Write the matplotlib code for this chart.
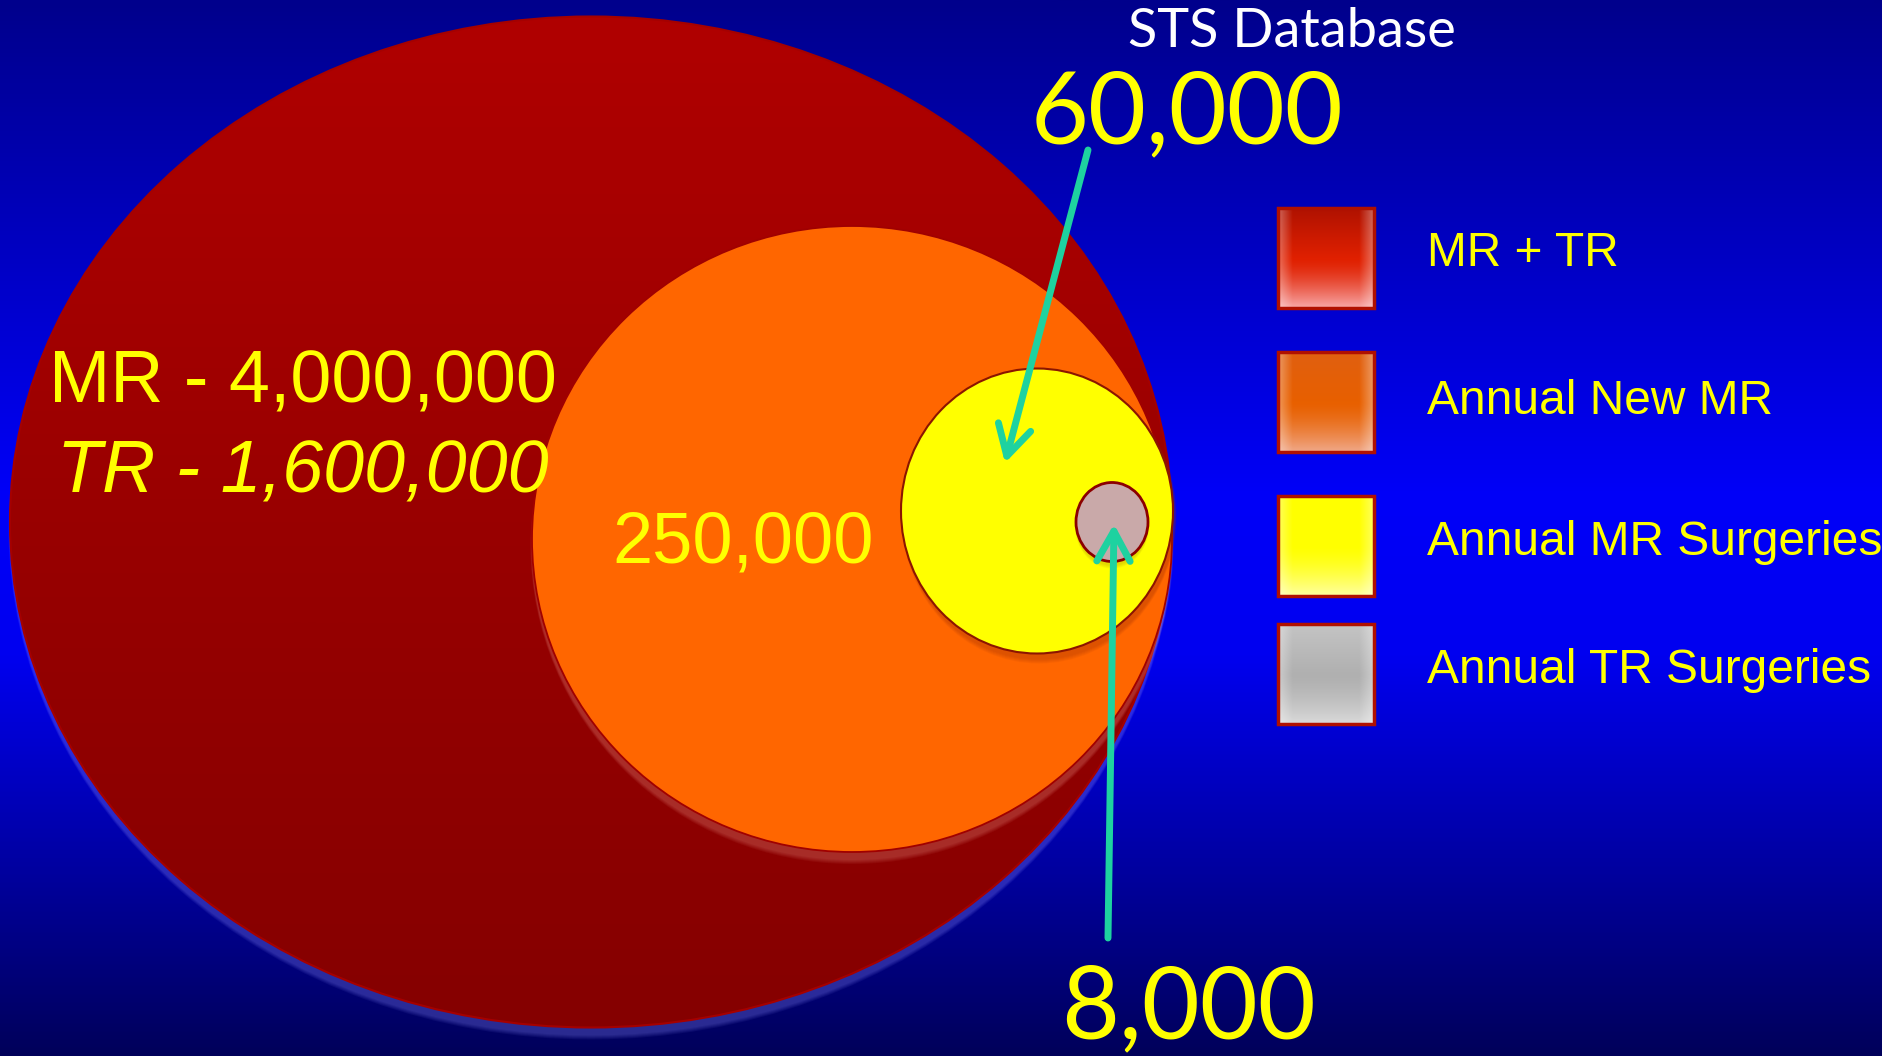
import numpy as np
import matplotlib
matplotlib.use("Agg")
from matplotlib import pyplot as plt
from matplotlib.patches import Ellipse, Rectangle
from matplotlib.colors import LinearSegmentedColormap, to_rgb

# valve disease numbers (US)
mr_total = 4000000
tr_total = 1600000
new_mr = 250000
mr_surgeries = 60000
tr_surgeries = 8000

legend_labels = ["MR + TR", "Annual New MR", "Annual MR Surgeries", "Annual TR Surgeries"]

W, H = 1882, 1056
fig = plt.figure(figsize=(W / 100, H / 100), dpi=100)
ax = fig.add_axes([0, 0, 1, 1])
ax.set_xlim(0, W)
ax.set_ylim(H, 0)
ax.axis("off")

# blue background, dark at top and bottom
bg = LinearSegmentedColormap.from_list(
    "bg", [(0, "#00008c"), (0.47, "#0000f8"), (0.62, "#0000f0"), (1, "#00005a")])
grad = np.linspace(0, 1, 512).reshape(-1, 1)
ax.imshow(grad, cmap=bg, extent=[0, W, H, 0], aspect="auto", zorder=0)


def glow(cx, cy, w, h, color, dy=6, n=5, alpha=0.07, z=1):
    # soft shadow that shows mostly under the lower edge
    for k in range(1, n + 1):
        ax.add_patch(Ellipse((cx, cy + dy), w + 0.6 * k, h + 2.0 * k,
                             facecolor=color, edgecolor="none", alpha=alpha, zorder=z))


# MR + TR ellipse
red_c, red_w, red_h = (591, 522), 1162, 1011
glow(red_c[0], red_c[1], red_w, red_h, "#9090ff", dy=7, alpha=0.07, z=1)
red_patch = Ellipse(red_c, red_w, red_h, facecolor="none", edgecolor="#a50000", lw=1.5, zorder=3)
ax.add_patch(red_patch)
red_cm = LinearSegmentedColormap.from_list("red", ["#b00000", "#990000", "#850000"])
im = ax.imshow(grad, cmap=red_cm, extent=[0, W, red_c[1] + red_h / 2, red_c[1] - red_h / 2],
               aspect="auto", zorder=2)
im.set_clip_path(Ellipse(red_c, red_w, red_h, transform=ax.transData))
ax.set_xlim(0, W)
ax.set_ylim(H, 0)

# annual new MR
org_c, org_w, org_h = (852, 539), 640, 626
glow(org_c[0], org_c[1], org_w, org_h, "#ffb0a0", dy=7, alpha=0.06, z=4)
ax.add_patch(Ellipse(org_c, org_w, org_h, facecolor="#ff6600", edgecolor="#a00000", lw=1.3, zorder=5))

# annual MR surgeries
yel_c, yel_w, yel_h = (1037, 511), 272, 285
glow(yel_c[0] + 2, yel_c[1], yel_w, yel_h, "#a03000", dy=5, n=5, alpha=0.08, z=6)
ax.add_patch(Ellipse(yel_c, yel_w, yel_h, facecolor="#ffff00", edgecolor="#8b1500", lw=1.5, zorder=7))

# annual TR surgeries
gry_c, gry_w, gry_h = (1112, 522), 72, 79
glow(gry_c[0], gry_c[1], gry_w, gry_h, "#a08000", dy=3, n=4, alpha=0.08, z=8)
ax.add_patch(Ellipse(gry_c, gry_w, gry_h, facecolor="#c9a9a9", edgecolor="#8b0000", lw=2, zorder=9))

# labels
ax.text(303, 403, f"MR - {mr_total:,}", color="#ffff00", fontsize=53,
        family="Liberation Sans", ha="center", va="baseline", zorder=10)
ax.text(303, 493, f"TR - {tr_total:,}", color="#ffff00", fontsize=53, style="italic",
        family="Liberation Sans", ha="center", va="baseline", zorder=10)
ax.text(743, 563, f"{new_mr:,}", color="#ffff00", fontsize=52,
        family="Liberation Sans", ha="center", va="baseline", zorder=10)
ax.text(1292, 47, "STS Database", color="white", fontsize=39,
        family="Lato", ha="center", va="baseline", zorder=10)
ax.text(1187, 143, f"{mr_surgeries:,}", color="#ffff00", fontsize=72,
        family="Lato", ha="center", va="baseline", zorder=10)
ax.text(1189, 1038, f"{tr_surgeries:,}", color="#ffff00", fontsize=72,
        family="Lato", ha="center", va="baseline", zorder=10)

# pointer arrows
arrow_kw = dict(arrowstyle="->,head_length=0.9,head_width=0.5", color="#1ed2a0", lw=5,
                mutation_scale=24, shrinkA=0, shrinkB=0, capstyle="round", joinstyle="round")
ax.annotate("", xy=(1005, 463), xytext=(1088, 150), arrowprops=arrow_kw, zorder=11)
ax.annotate("", xy=(1114, 524), xytext=(1108, 938), arrowprops=arrow_kw, zorder=11)

# legend swatches
swatch_cols = [
    ("#b01200", "#e02000", "#f8a8a8"),
    ("#e06010", "#e86000", "#f0a888"),
    ("#ffff00", "#ffff00", "#ffffa0"),
    ("#c4c4c4", "#b0b0b0", "#dadada"),
]
box_tops = [208, 352, 496, 624]
text_base = [266, 414, 555, 683]
bx0, bx1, bh = 1278, 1374, 100

yy = np.linspace(0, 1, 100)[:, None]
xx = np.linspace(0, 1, 96)[None, :]
for (top, mid, bot), y0, yb, label in zip(swatch_cols, box_tops, text_base, legend_labels):
    t, m, b = (np.array(to_rgb(c)) for c in (top, mid, bot))
    w1 = np.clip(yy * 2, 0, 1)[..., None]
    w2 = np.clip(yy * 2 - 1, 0, 1)[..., None] ** 1.5
    col = t * (1 - w1) + m * w1
    col = col * (1 - w2) + b * w2
    edge = np.clip(1 - np.minimum(xx, 1 - xx) / 0.15, 0, 1)[..., None] * 0.35
    img = col * (1 - edge) + 1.0 * edge
    img = np.broadcast_to(img, (100, 96, 3))
    ax.imshow(img, extent=[bx0, bx1, y0 + bh, y0], aspect="auto", zorder=10)
    ax.add_patch(Rectangle((bx0, y0), bx1 - bx0, bh, facecolor="none",
                           edgecolor="#b01000", lw=2.5, zorder=11))
    ax.text(1427, yb, label, color="#ffff00", fontsize=34.5,
            family="Liberation Sans", ha="left", va="baseline", zorder=11)

ax.set_xlim(0, W)
ax.set_ylim(H, 0)
fig.savefig("out.png", dpi=100)
